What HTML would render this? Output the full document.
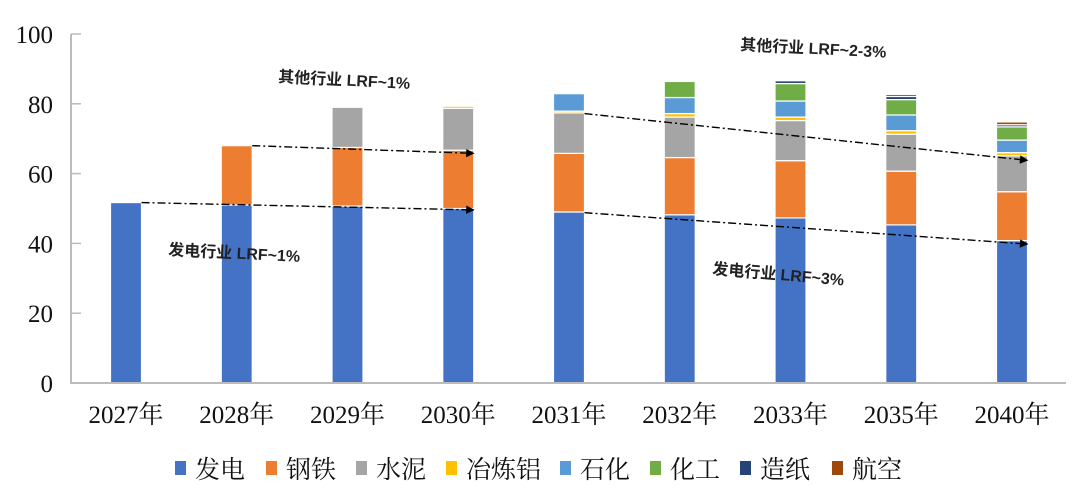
<!DOCTYPE html>
<html><head><meta charset="utf-8"><style>
body{margin:0;background:#fff}
svg{display:block}
.t{font-family:"Liberation Serif","Noto Serif CJK SC",serif;font-size:25px;fill:#111}
.l{font-family:"Liberation Serif","Noto Serif CJK SC",serif;font-size:25px;fill:#111}
.a{font-family:"Liberation Sans","Noto Sans CJK SC",sans-serif;font-size:16px;font-weight:bold;fill:#222}
</style></head><body>
<svg id="c" width="1080" height="498"></svg>
<script>
const categories=["2027年","2028年","2029年","2030年","2031年","2032年","2033年","2035年","2040年"];
const seriesNames=["发电","钢铁","水泥","冶炼铝","石化","化工","造纸","航空"];
const colors=["#4472C4","#ED7D31","#A5A5A5","#FFC000","#5B9BD5","#70AD47","#264478","#9E480E"];
const power=[51.7,51,50.7,50,49,48.2,47.3,45.3,40.8];
const steel=[0,17,16.8,16.7,16.8,16.4,16.4,15.4,14];
const cement=[0,0,11.5,12,11.6,11.6,11.5,10.6,10.3];
const aluminum=[0,0,0,0.6,0.5,1,1,1,0.9];
const petrochem=[0,0,0,0,5,4.6,4.6,4.5,3.6];
const chemical=[0,0,0,0,0,4.6,5,4.4,3.8];
const paper=[0,0,0,0,0,0,0.8,0.9,0.6];
const aviation=[0,0,0,0,0,0,0,0.6,0.8];
const yTicks=[0,20,40,60,80,100];
const series=[power,steel,cement,aluminum,petrochem,chemical,paper,aviation];
const NS="http://www.w3.org/2000/svg",svg=document.getElementById('c');
const y0=383,ppu=3.49,x0=71,step=110.75,first=126,bw=31;
const Y=v=>y0-v*ppu, X=i=>first+i*step;
function mk(t,a,p){const e=document.createElementNS(NS,t);for(const k in a)e.setAttribute(k,a[k]);(p||svg).appendChild(e);return e;}
yTicks.forEach(v=>{const t=mk('text',{x:53,y:Y(v)+9,'text-anchor':'end',class:'t'});t.textContent=v;


mk('line',{x1:x0,x2:x0+10,y1:Y(v),y2:Y(v),stroke:'#bbb','stroke-width':1.5});});
categories.forEach((c,i)=>{let acc=0;
 series.forEach((s,k)=>{const v=s[i];if(v<=0)return;
  const r=mk('rect',{x:X(i)-bw/2,y:Y(acc+v),width:bw,height:v*ppu,fill:colors[k],stroke:'#fff','stroke-width':1.2});
  
  
  acc+=v;});
 const t=mk('text',{x:X(i),y:423,'text-anchor':'middle',class:'t'});t.textContent=c;
 
 
});
const ax=mk('path',{d:`M${x0} 34V${y0}H1066`,stroke:'#bbb','stroke-width':2,fill:'none'});


mk('defs',{}).innerHTML='<marker id="ar" viewBox="0 0 10 10" refX="9" refY="5" markerWidth="7" markerHeight="6" orient="auto"><path d="M0 0L10 5L0 10z" fill="#000"/></marker>';
function arrow(i1,v1,i2,v2,name){const l=mk('line',{x1:X(i1)+bw/2,y1:Y(v1),x2:X(i2)+bw/2,y2:Y(v2),stroke:'#000','stroke-width':1.4,'stroke-dasharray':'8 3 2 3','marker-end':'url(#ar)'});
 
 }
arrow(0,51.7,3,49.6,'trend-arrow-power-1');
arrow(1,68,3,65.8,'trend-arrow-other-1');
arrow(4,48.8,8,39.8,'trend-arrow-power-3');
arrow(4,77.2,8,63.8,'trend-arrow-other-2-3');
function ann(x,y,rot,s,name){const t=mk('text',{x:x,y:y,class:'a',transform:`rotate(${rot} ${x} ${y})`});t.textContent=s;
 
 }
ann(278,82,3,'其他行业 LRF~1%','annotation-other-1');
ann(740,50,3,'其他行业 LRF~2-3%','annotation-other-2-3');
ann(168,255,3,'发电行业 LRF~1%','annotation-power-1');
ann(712,274,5,'发电行业 LRF~3%','annotation-power-3');
const lx=[175,266,356,446,560,650,740,832];
seriesNames.forEach((n,k)=>{const g=mk('g',{});
 
 
 mk('rect',{x:lx[k],y:461,width:11,height:14,fill:colors[k]},g);
 const t=mk('text',{x:lx[k]+20,y:478,class:'l'},g);t.textContent=n;});
</script>
</body></html>
